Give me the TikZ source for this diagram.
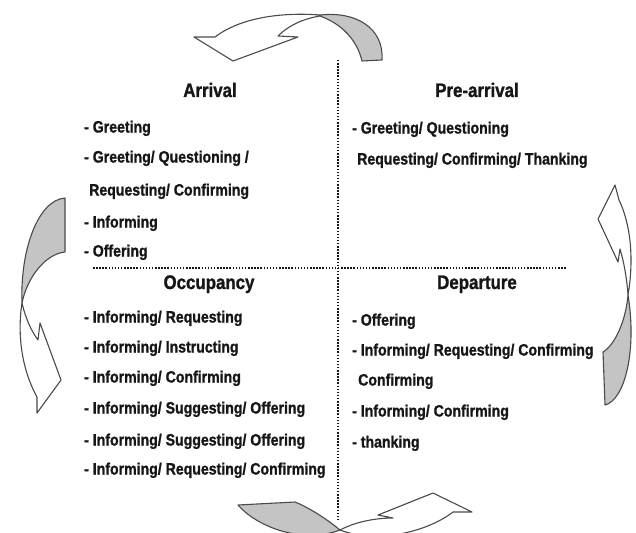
\documentclass[tikz,border=0pt]{standalone}
\usepackage{fontspec}
\newfontfamily\lbl[FakeStretch=0.86, BoldFeatures={FakeBold=1.2}]{Liberation Sans}
\definecolor{ink}{HTML}{161616}
\definecolor{edge}{HTML}{4A4A4A}
\definecolor{shade}{HTML}{C4C4C4}
\begin{document}
\begin{tikzpicture}[x=1pt,y=-1pt,
  item/.style={anchor=base west, inner sep=0pt, text=ink,
    font=\lbl\bfseries\fontsize{16.4}{18}\selectfont},
  head/.style={anchor=base, inner sep=0pt, text=ink,
    font=\lbl\bfseries\fontsize{19.6}{22}\selectfont},
  sep/.style={draw=ink, line width=2.2pt, dash pattern=on 1.5pt off 1.6pt},
  band/.style={draw=edge, line width=1.1pt, line join=round},
]
\useasboundingbox (0,0) rectangle (636,532);
\clip (0,0) rectangle (636,532);

% dotted separators between the four phases
\coordinate (vtop) at (338,60);
\coordinate (vbot) at (338,520);
\coordinate (hl) at (93,268);
\coordinate (hr) at (566,268);
\draw[sep] (vtop) -- (vbot);
\draw[sep] (hl) -- (hr);

% top curved arrow (tail right, head left)
\filldraw[band, fill=shade] (320,15) .. controls (356,11) and (384,28) .. (382,60)
  -- (362,61) .. controls (357,40) and (342,24) .. (320,16) -- cycle;
\filldraw[band, fill=white] (320,15) .. controls (280,12) and (240,18) .. (215,37)
  -- (194,37) -- (233,61) -- (298,37) -- (278,36)
  .. controls (288,26) and (302,19) .. (320,16) -- cycle;

% left curved arrow (tail top, head bottom)
\filldraw[band, fill=shade] (65,198) -- (65,252) .. controls (45,254) and (27,278) .. (22,303)
  .. controls (20,250) and (38,200) .. (65,198) -- cycle;
\filldraw[band, fill=white] (22,303) .. controls (26,320) and (32,332) .. (38,340)
  -- (40,323) -- (61,380) -- (37,413) -- (37,397)
  .. controls (22,370) and (17,335) .. (22,303) -- cycle;

% bottom curved arrow (tail left, head right)
\filldraw[band, fill=shade] (238,505) -- (295,502) .. controls (310,508) and (328,520) .. (340,530)
  .. controls (300,545) and (255,525) .. (238,505) -- cycle;
\filldraw[band, fill=white] (340,530) .. controls (355,522) and (375,518) .. (393,518)
  -- (378,515) -- (433,493) -- (472,512) -- (453,512)
  .. controls (430,530) and (380,545) .. (340,530) -- cycle;

% right curved arrow (tail bottom, head top)
\filldraw[band, fill=white] (615,185) -- (598,219) -- (618,262) -- (620,249)
  .. controls (624,262) and (627,280) .. (628,295)
  .. controls (634,260) and (631,225) .. (619,200) -- cycle;
\filldraw[band, fill=shade] (628,295) .. controls (626,320) and (615,345) .. (603,352)
  -- (605,405) .. controls (625,400) and (637,350) .. (628,295) -- cycle;

% phase titles
\node[head] (tArr) at (210,97) {Arrival};
\node[head] (tPre) at (477,97) {Pre-arrival};
\node[head] (tOcc) at (209,289) {Occupancy};
\node[head] (tDep) at (477,289) {Departure};

% Arrival
\node[item] (a1) at (84,132.5) {- Greeting};
\node[item] (a2) at (84,162.5) {- Greeting/ Questioning /};
\node[item] (a3) at (89,195.5) {Requesting/ Confirming};
\node[item] (a4) at (84,227.5) {- Informing};
\node[item] (a5) at (84,256.5) {- Offering};

% Pre-arrival
\node[item] (p1) at (352,133.5) {- Greeting/ Questioning};
\node[item] (p2) at (357,164.5) {Requesting/ Confirming/ Thanking};

% Occupancy
\node[item] (o1) at (84,322.5) {- Informing/ Requesting};
\node[item] (o2) at (84,352.5) {- Informing/ Instructing};
\node[item] (o3) at (84,382.5) {- Informing/ Confirming};
\node[item] (o4) at (84,413.5) {- Informing/ Suggesting/ Offering};
\node[item] (o5) at (84,445.5) {- Informing/ Suggesting/ Offering};
\node[item] (o6) at (84,474.5) {- Informing/ Requesting/ Confirming};

% Departure
\node[item] (d1) at (352,325.5) {- Offering};
\node[item] (d2) at (352,355.5) {- Informing/ Requesting/ Confirming};
\node[item] (d3) at (358,385.5) {Confirming};
\node[item] (d4) at (352,416.5) {- Informing/ Confirming};
\node[item] (d5) at (352,447.5) {- thanking};
\end{tikzpicture}
\end{document}
